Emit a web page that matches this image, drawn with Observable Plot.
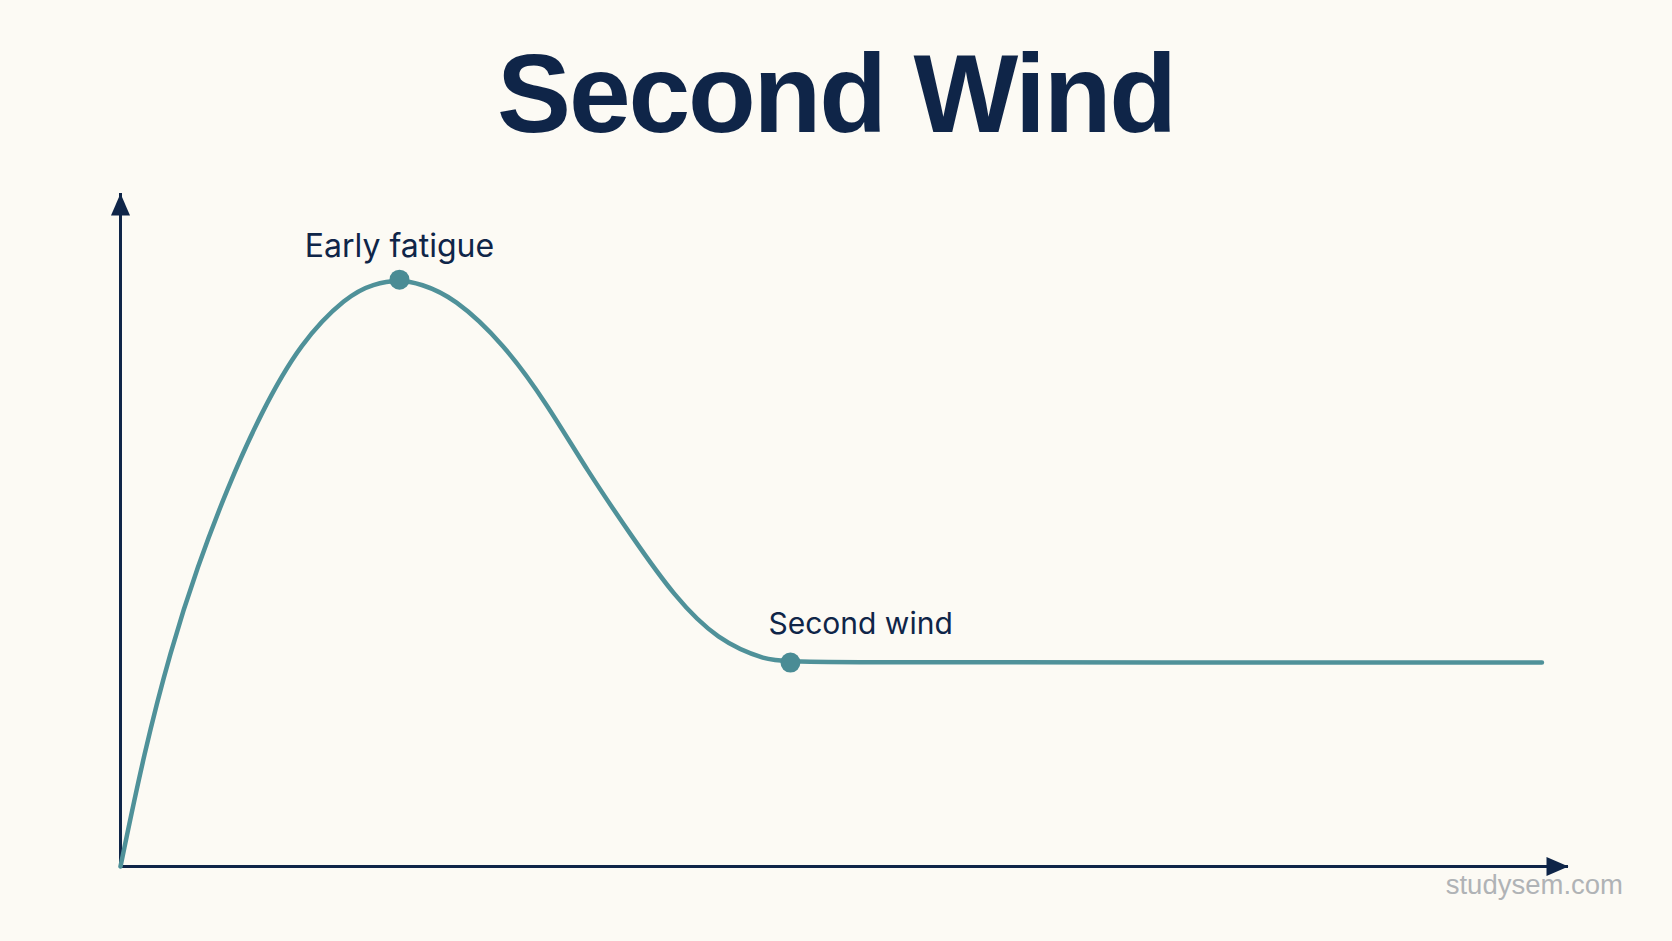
<!DOCTYPE html>
<html>
<head>
<meta charset="utf-8">
<script src="https://cdn.jsdelivr.net/npm/d3@7"></script>
<script src="https://cdn.jsdelivr.net/npm/@observablehq/plot@0.6"></script>
<style>
  html, body { margin: 0; padding: 0; background: #fcfaf4; }
  body { width: 1672px; height: 941px; overflow: hidden; position: relative; }
  #title { height: 165px; box-sizing: border-box; padding-top: 39px; }
  #title h1 {
    margin: 0; font-family: "Liberation Sans", Arial, sans-serif; font-weight: 700;
    font-size: 111px; line-height: 1; letter-spacing: -2.2px; text-align: center; color: #0f2548;
  }
  #chart svg { display: block; background: transparent; overflow: visible; }
  #credit {
    position: absolute; right: 49px; top: 871px; font-family: "Liberation Sans", Arial, sans-serif;
    font-size: 27.5px; line-height: 1; color: #b0b3b6;
  }
</style>
</head>
<body>
<div id="title"><h1>Second Wind</h1></div>
<div id="chart"></div>
<div id="credit">studysem.com</div>
<script>
// Data (x: time, y: effort)
const timeMin = [0, 0.97, 2.07, 3.19, 4.42, 5.80, 7.46, 9.39, 10.48, 11.56, 12.43, 13.81, 15.88, 17.68, 19.34, 21.27, 22.93, 24.73, 26.80, 27.76, 58.9];
const effort  = [0, 16.8, 32.1, 44.6, 56.2, 67.3, 77.9, 84.8, 86.6, 87.2, 86.6, 84.6, 77.7, 68.7, 58.8, 48.6, 40.2, 33.6, 30.6, 30.3, 30.3];
const markedIndex = [9, 19];
const markedLabels = ["Early fatigue", "Second wind"];
const xDomain = [0, 60];
const yDomain = [0, 100];

const curve = timeMin.map((t, i) => ({t, e: effort[i]}));
const marked = markedIndex.map((k, i) => ({t: timeMin[k], e: effort[k], label: markedLabels[i]}));

const navy = "#0f2548";
const teal = "#4f9199";

// filled arrowheads with the tip at the symbol origin
const headRight = {draw(ctx) { ctx.moveTo(0, 0); ctx.lineTo(-22, -9.5); ctx.lineTo(-22, 9.5); ctx.closePath(); }};
const headUp = {draw(ctx) { ctx.moveTo(0, 0); ctx.lineTo(-9.5, 22); ctx.lineTo(9.5, 22); ctx.closePath(); }};

const chart = Plot.plot({
  width: 1672,
  height: 776,
  marginLeft: 120,
  marginRight: 104,
  marginTop: 28,
  marginBottom: 75,
  x: {domain: xDomain, axis: null},
  y: {domain: yDomain, axis: null},
  style: {background: "transparent", overflow: "visible"},
  marks: [
    Plot.ruleY([yDomain[0]], {x1: xDomain[0], x2: xDomain[1], stroke: navy, strokeWidth: 3}),
    Plot.ruleX([xDomain[0]], {y1: yDomain[0], y2: yDomain[1], stroke: navy, strokeWidth: 3}),
    Plot.dot([{x: xDomain[1], y: yDomain[0]}], {x: "x", y: "y", symbol: headRight, r: 8, fill: navy, stroke: "none"}),
    Plot.dot([{x: xDomain[0], y: yDomain[1]}], {x: "x", y: "y", symbol: headUp, r: 8, fill: navy, stroke: "none"}),
    Plot.line(curve, {x: "t", y: "e", stroke: teal, strokeWidth: 4.5, curve: "basis", strokeLinecap: "round", strokeLinejoin: "round"}),
    Plot.dot(marked, {x: "t", y: "e", r: 10, fill: "#4a8c95", stroke: "none"}),
    Plot.text(marked.slice(0, 1), {x: "t", y: "e", text: "label", dy: -23, lineAnchor: "bottom", textAnchor: "middle",
      fill: navy, fontSize: 32, fontFamily: "Inter, 'Noto Sans', sans-serif"}),
    Plot.text(marked.slice(1), {x: "t", y: "e", text: "label", dx: -22, dy: -29, lineAnchor: "bottom", textAnchor: "start",
      fill: navy, fontSize: 30, fontFamily: "Inter, 'Noto Sans', sans-serif"})
  ]
});
document.getElementById("chart").appendChild(chart);
</script>
</body>
</html>
